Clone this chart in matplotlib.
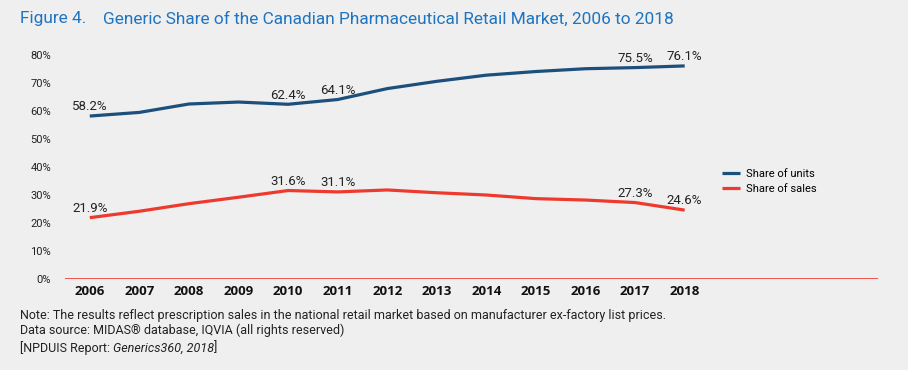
import matplotlib.pyplot as plt

years = list(range(2006, 2019))
units = [58.2, 59.5, 62.5, 63.2, 62.4, 64.1, 68.0, 70.6, 72.8, 74.1, 75.1, 75.5, 76.1]
sales = [21.9, 24.2, 26.9, 29.2, 31.6, 31.1, 31.8, 30.8, 30.0, 28.7, 28.2, 27.3, 24.6]
labelled_years = [2006, 2010, 2011, 2017, 2018]
yticks = [0, 10, 20, 30, 40, 50, 60, 70, 80]

bg = '#efefef'
blue = '#1d4f7c'
red = '#ee3a2e'
fam = ['Roboto', 'DejaVu Sans']

fig = plt.figure(figsize=(9.08, 3.70), dpi=100, facecolor=bg)
ax = fig.add_axes([65 / 908, 1 - 279 / 370, (878 - 65) / 908, (279 - 55) / 370])
ax.set_facecolor(bg)

ax.plot(years, units, color=blue, lw=2.3, label='Share of units', solid_capstyle='butt')
ax.plot(years, sales, color=red, lw=2.3, label='Share of sales', solid_capstyle='butt')
ax.axhline(0, color=red, lw=1.2)

for y, u, s in zip(years, units, sales):
    if y in labelled_years:
        ax.annotate(f'{u:.1f}%', (y, u), xytext=(0, 2), textcoords='offset points',
                    ha='center', va='bottom', fontsize=9.5, family=fam, color='#222222')
        ax.annotate(f'{s:.1f}%', (y, s), xytext=(0, 2), textcoords='offset points',
                    ha='center', va='bottom', fontsize=9.5, family=fam, color='#222222')

ax.set_xlim(2005.5, 2021.9)
ax.set_ylim(0, 80)
ax.set_xticks(years)
ax.set_xticklabels([str(y) for y in years], fontweight='bold', fontsize=9.5, family='Open Sans', color='#111111')
ax.set_yticks(yticks)
ax.set_yticklabels([f'{t}%' for t in yticks], fontsize=8, family=fam, color='#222222')
ax.tick_params(axis='both', length=0)
ax.tick_params(axis='y', pad=10)
ax.tick_params(axis='x', pad=4)
for sp in ax.spines.values():
    sp.set_visible(False)

fig.legend(loc='upper left', bbox_to_anchor=(712 / 908, 1 - 159 / 370), frameon=False,
           handlelength=1.6, handletextpad=0.6, labelspacing=0.45,
           prop={'family': fam, 'size': 8})

fig.text(20 / 908, 1 - 19 / 370, 'Figure 4.', fontsize=12.4, color='#1f74c1', family=fam, va='center')
fig.text(103 / 908, 1 - 19 / 370, 'Generic Share of the Canadian Pharmaceutical Retail Market, 2006 to 2018',
         fontsize=12.4, color='#1f74c1', family=fam, va='center', ha='left')

fs = 9.0
fig.text(20 / 908, 1 - 316 / 370,
         'Note: The results reflect prescription sales in the national retail market based on manufacturer ex-factory list prices.',
         fontsize=fs, family=fam, color='#222222', va='center')
fig.text(20 / 908, 1 - 330 / 370, 'Data source: MIDAS\u00ae database, IQVIA (all rights reserved)',
         fontsize=fs, family=fam, color='#222222', va='center')
t = fig.text(20 / 908, 1 - 348 / 370, '[NPDUIS Report: ', fontsize=fs, family=fam, color='#222222', va='center')
fig.canvas.draw()
t2 = fig.text(t.get_window_extent().x1 / fig.bbox.width, 1 - 348 / 370, 'Generics360, 2018', fontsize=fs,
              family=fam, style='italic', color='#222222', va='center')
fig.canvas.draw()
fig.text(t2.get_window_extent().x1 / fig.bbox.width, 1 - 348 / 370, ']', fontsize=fs, family=fam,
         color='#222222', va='center')

fig.savefig('out.png', dpi=100, facecolor=bg)
